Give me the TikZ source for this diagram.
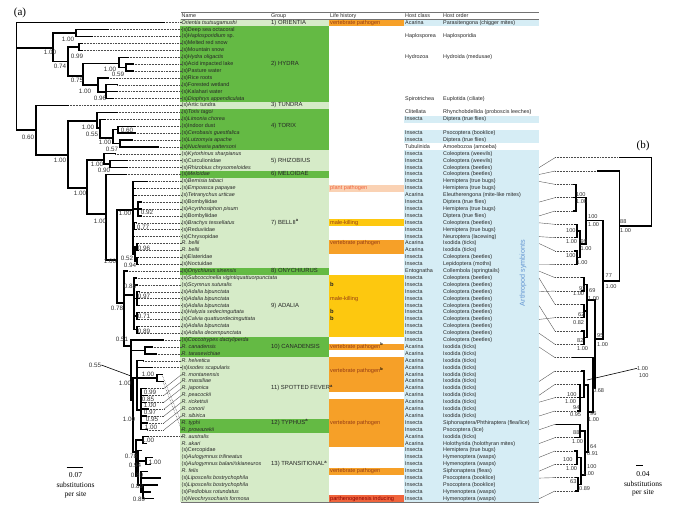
\documentclass[tikz,border=0pt]{standalone}
\usepackage{fontspec}
\setmainfont{Liberation Sans}
\newfontfamily\seriffont{Liberation Serif}
\usetikzlibrary{positioning}
\usetikzlibrary{calc}

\definecolor{dkgreen}{RGB}{100,186,68}
\definecolor{ltgreen}{RGB}{214,235,200}
\definecolor{vorange}{RGB}{246,160,40}
\definecolor{mkyellow}{RGB}{253,200,15}
\definecolor{peach}{RGB}{250,210,180}
\definecolor{redor}{RGB}{240,100,60}
\definecolor{ltblue}{RGB}{214,237,245}
\definecolor{lhtext}{RGB}{150,60,20}
\definecolor{symblue}{RGB}{100,150,210}

\tikzset{
  namecell/.style={anchor=west, inner sep=0pt, text height=3.9pt, text depth=1.1pt,
    font=\fontsize{5.4}{6}\selectfont, text=black!85},
  hostcell/.style={namecell},
  groupcell/.style={namecell, font=\fontsize{5.9}{6}\selectfont},
  lifecell/.style={namecell, font=\fontsize{5.6}{6}\selectfont, text=lhtext},
  branch/.style={line width=1.3pt, line cap=rect},
  bbranch/.style={line width=1.2pt, line cap=rect},
  leader/.style={densely dotted, line width=0.55pt, black!70},
  conn/.style={line width=0.4pt, black!65},
  rule/.style={line width=0.9pt, black!55},
  blab/.style={inner sep=0pt, font=\fontsize{6.3}{6.3}\selectfont, text=black!80},
  bblab/.style={blab, anchor=west, font=\fontsize{5.6}{5.6}\selectfont},
  scaletext/.style={inner sep=0pt, font=\seriffont\fontsize{7.5}{8}\selectfont}
}

% one table row: names, host class, host order
\newcommand{\trow}[4]{%
  \node[namecell] (n#1) at (181.5,{15.8+6.9*#1}) {#2};
  \node[hostcell] (c#1) at (405,{15.8+6.9*#1}) {#3};
  \node[hostcell] (o#1) at (443,{15.8+6.9*#1}) {#4};
  \coordinate (e#1) at (539,{15.8+6.9*#1});
}
% coloured band over rows #2..#3
\newcommand{\band}[5]{\fill[fill=#1] (#4,{12.35+6.9*#2}) rectangle (#5,{19.25+6.9*#3});}
% tree (a) tip: id, x end, row
\newcommand{\tipa}[3]{\coordinate (t#1) at (#2,{15.8+6.9*#3});}
% tree (b) tip: index, x start of branch
\newcommand{\tipb}[2]{%
  \coordinate (b#1) at (#2,{157.7+13.33*#1});
  \coordinate (bd#1) at (555,{157.7+13.33*#1});
}

\begin{document}
\begin{tikzpicture}[x=1pt, y=-1pt]
\useasboundingbox (0,0) rectangle (685,528);

% bands: groups, life history, host
\foreach \c/\a/\b in {ltgreen/1/1, dkgreen/2/12, ltgreen/13/13, dkgreen/14/19, ltgreen/20/22,
    dkgreen/23/23, ltgreen/24/36, dkgreen/37/37, ltgreen/38/46, dkgreen/47/49,
    ltgreen/50/58, dkgreen/59/60, ltgreen/61/70}
  \band{\c}{\a}{\b}{180}{329};
\foreach \c/\a/\b in {vorange/1/1, peach/25/25, mkyellow/30/30, vorange/33/34, mkyellow/38/46,
    vorange/48/48, vorange/50/54, vorange/56/62, vorange/66/66, redor/70/70}
  \band{\c}{\a}{\b}{329}{403.5};
\foreach \a/\b in {1/1, 15/15, 17/18, 20/70}
  \band{ltblue}{\a}{\b}{403.5}{539};

\draw[rule] (181,12.3) -- (539,12.3);
\draw[line width=0.4pt, black!55] (181,19.3) -- (539,19.3);
\draw[rule] (181,502.6) -- (539,502.6);

\node[namecell] (h1) at (181.5,16) {Name};
\node[namecell] (h2) at (271,16) {Group};
\node[namecell] (h3) at (330,16) {Life history};
\node[namecell] (h4) at (405,16) {Host class};
\node[namecell] (h5) at (443,16) {Host order};

\trow{1}{\textit{Orientia tsutsugamushi}}{Acarina}{Parasitengona (chigger mites)}
\trow{2}{(s)Deep sea octacoral}{}{}
\trow{3}{(s)\textit{Haplosporidium} sp.}{Haplosporea}{Haplosporidia}
\trow{4}{(s)Melted red snow}{}{}
\trow{5}{(s)Mountain snow}{}{}
\trow{6}{(s)\textit{Hydra oligactis}}{Hydrozoa}{Hydroida (medusae)}
\trow{7}{(s)Acid impacted lake}{}{}
\trow{8}{(s)Pasture water}{}{}
\trow{9}{(s)Rice roots}{}{}
\trow{10}{(s)Forested wetland}{}{}
\trow{11}{(s)Kalahari water}{}{}
\trow{12}{(s)\textit{Diophrys appendiculata}}{Spirotrichea}{Euplotida (ciliate)}
\trow{13}{(s)Artic tundra}{}{}
\trow{14}{(s)\textit{Torix tagoi}}{Clitellata}{Rhynchobdellida (proboscis leeches)}
\trow{15}{(s)\textit{Limonia chorea}}{Insecta}{Diptera (true flies)}
\trow{16}{(s)Indoor dust}{}{}
\trow{17}{(s)\textit{Cerobasis guestfalica}}{Insecta}{Psocoptera (booklice)}
\trow{18}{(s)\textit{Lutzomyia apache}}{Insecta}{Diptera (true flies)}
\trow{19}{(s)\textit{Nuclearia pattersoni}}{Tubulinida}{Amoebozoa (amoeba)}
\trow{20}{(s)\textit{Kytorhinus sharpianus}}{Insecta}{Coleoptera (weevils)}
\trow{21}{(s)Curculionidae}{Insecta}{Coleoptera (weevils)}
\trow{22}{(s)\textit{Rhizobius chrysomeloides}}{Insecta}{Coleoptera (beetles)}
\trow{23}{(s)\textit{Meloidae}}{Insecta}{Coleoptera (beetles)}
\trow{24}{(s)\textit{Bemisia tabaci}}{Insecta}{Hemiptera (true bugs)}
\trow{25}{(s)\textit{Empoasca papayae}}{Insecta}{Hemiptera (true bugs)}
\trow{26}{(s)\textit{Tetranychus urticae}}{Acarina}{Eleutherengona (mite-like mites)}
\trow{27}{(s)Bombyliidae}{Insecta}{Diptera (true flies)}
\trow{28}{(s)\textit{Acyrthosiphon pisum}}{Insecta}{Hemiptera (true bugs)}
\trow{29}{(s)Bombyliidae}{Insecta}{Diptera (true flies)}
\trow{30}{(s)\textit{Brachys tessellatus}}{Insecta}{Coleoptera (beetles)}
\trow{31}{(s)Reduviidae}{Insecta}{Hemiptera (true bugs)}
\trow{32}{(s)Chrysopidae}{Insecta}{Neuroptera (lacewing)}
\trow{33}{\textit{R. bellii}}{Acarina}{Ixodida (ticks)}
\trow{34}{\textit{R. bellii}}{Acarina}{Ixodida (ticks)}
\trow{35}{(s)Elateridae}{Insecta}{Coleoptera (beetles)}
\trow{36}{(s)Noctuidae}{Insecta}{Lepidoptera (moths)}
\trow{37}{(s)\textit{Onychiurus sinensis}}{Entognatha}{Collembola (springtails)}
\trow{38}{(s)\textit{Subcoccinella vigintiquattuorpunctata}}{Insecta}{Coleoptera (beetles)}
\trow{39}{(s)\textit{Scymnus suturalis}}{Insecta}{Coleoptera (beetles)}
\trow{40}{(s)\textit{Adalia bipunctata}}{Insecta}{Coleoptera (beetles)}
\trow{41}{(s)\textit{Adalia bipunctata}}{Insecta}{Coleoptera (beetles)}
\trow{42}{(s)\textit{Adalia bipunctata}}{Insecta}{Coleoptera (beetles)}
\trow{43}{(s)\textit{Halyzia sedecimguttata}}{Insecta}{Coleoptera (beetles)}
\trow{44}{(s)\textit{Calvia quattuordecimguttata}}{Insecta}{Coleoptera (beetles)}
\trow{45}{(s)\textit{Adalia bipunctata}}{Insecta}{Coleoptera (beetles)}
\trow{46}{(s)\textit{Adalia decempunctata}}{Insecta}{Coleoptera (beetles)}
\trow{47}{(s)\textit{Coccotrypes dactyliperda}}{Insecta}{Coleoptera (beetles)}
\trow{48}{\textit{R. canadensis}}{Acarina}{Ixodida (ticks)}
\trow{49}{\textit{R. tarasevichiae}}{Acarina}{Ixodida (ticks)}
\trow{50}{\textit{R. helvetica}}{Acarina}{Ixodida (ticks)}
\trow{51}{(s)\textit{Ixodes scapularis}}{Acarina}{Ixodida (ticks)}
\trow{52}{\textit{R. montanensis}}{Acarina}{Ixodida (ticks)}
\trow{53}{\textit{R. massiliae}}{Acarina}{Ixodida (ticks)}
\trow{54}{\textit{R. japonica}}{Acarina}{Ixodida (ticks)}
\trow{55}{\textit{R. peacockii}}{Acarina}{Ixodida (ticks)}
\trow{56}{\textit{R. rickettsii}}{Acarina}{Ixodida (ticks)}
\trow{57}{\textit{R. conorii}}{Acarina}{Ixodida (ticks)}
\trow{58}{\textit{R. sibirica}}{Acarina}{Ixodida (ticks)}
\trow{59}{\textit{R. typhi}}{Insecta}{Siphonaptera/Phthiraptera (flea/lice)}
\trow{60}{\textit{R. prowazekii}}{Insecta}{Psocoptera (lice)}
\trow{61}{\textit{R. australis}}{Acarina}{Ixodida (ticks)}
\trow{62}{\textit{R. akari}}{Acarina}{Holothyrida (holothyran mites)}
\trow{63}{(s)Cercopidae}{Insecta}{Hemiptera (true bugs)}
\trow{64}{(s)\textit{Aulogymnus trilineatus}}{Insecta}{Hymenoptera (wasps)}
\trow{65}{(s)\textit{Aulogymnus balani/skianeuros}}{Insecta}{Hymenoptera (wasps)}
\trow{66}{\textit{R. felis}}{Insecta}{Siphonaptera (fleas)}
\trow{67}{(s)\textit{Liposcelis bostrychophila}}{Insecta}{Psocoptera (booklice)}
\trow{68}{(s)\textit{Liposcelis bostrychophila}}{Insecta}{Psocoptera (booklice)}
\trow{69}{(s)\textit{Pediobius rotundatus}}{Insecta}{Hymenoptera (wasps)}
\trow{70}{(s)\textit{Neochrysocharis formosa}}{Insecta}{Hymenoptera (wasps)}

% groups
\foreach \r/\t [count=\k] in {1/1) ORIENTIA, 7/2) HYDRA, 13/3) TUNDRA, 16/4) TORIX, 21/5) RHIZOBIUS,
    23/6) MELOIDAE, 30/7) BELLII\textsuperscript{\textbf{a}}, 37/8) ONYCHIURUS, 42/9) ADALIA,
    48/10) CANADENSIS, 54/11) SPOTTED FEVER\textsuperscript{\textbf{a}},
    59/12) TYPHUS\textsuperscript{\textbf{a}}, 65/13) TRANSITIONAL\textsuperscript{\textbf{a}}}
  \node[groupcell] (g\k) at (271,{15.8+6.9*\r}) {\t};

% life history
\node[lifecell] (lh1) at (330,{15.8+6.9*1}) {vertebrate pathogen};
\node[lifecell, text=redor] (lh2) at (330,{15.8+6.9*25}) {plant pathogen};
\node[lifecell] (lh3) at (330,{15.8+6.9*30}) {male-killing};
\node[lifecell] (lh4) at (330,{15.8+6.9*33}) {vertebrate pathogen};
\node[lifecell] (lh5) at (330,{15.8+6.9*41}) {male-killing};
\node[lifecell] (lh6) at (330,{15.8+6.9*48}) {vertebrate pathogen\textsuperscript{\textcolor{black}{\textbf{b}}}};
\node[lifecell] (lh7) at (330,371.2) {vertebrate pathogen\textsuperscript{\textcolor{black}{\textbf{b}}}};
\node[lifecell] (lh8) at (330,{15.8+6.9*59}) {vertebrate pathogen};
\node[lifecell] (lh9) at (330,{15.8+6.9*66}) {vertebrate pathogen};
\node[lifecell, text=red!55!black] (lh10) at (330,{15.8+6.9*70}) {parthenogenesis inducing};
\foreach \r in {39,43,44}
  \node[namecell, font=\bfseries\fontsize{5.8}{6}\selectfont] (mk\r) at (330,{15.8+6.9*\r}) {b};

\node[rotate=90, text=symblue, inner sep=0pt, font=\fontsize{7.2}{7.2}\selectfont] (arthro) at (523,273) {Arthropod symbionts};

% ---- tree (a) ----
\coordinate (root) at (16.5,60);
\coordinate (A) at (53,48);   \coordinate (B) at (76,33);    \coordinate (C) at (68,61.7);
\coordinate (D) at (79,47);   \coordinate (E) at (83,76);    \coordinate (F) at (119,63.5);
\coordinate (H) at (126,67.5);\coordinate (G) at (98,85);    \coordinate (I) at (106,92);
\coordinate (J) at (36,130);  \coordinate (L) at (68,155);   \coordinate (M) at (97,121);
\coordinate (N) at (100,128); \coordinate (O) at (113,138);  \coordinate (P) at (118,129.6);
\coordinate (Q) at (120,143.5);
\coordinate (R) at (87,188);  \coordinate (S) at (104,160);  \coordinate (T) at (110,164);
\coordinate (U) at (106,214); \coordinate (V) at (117,260);  \coordinate (W) at (133,210);
\coordinate (W2) at (138,209);\coordinate (W3) at (134,226); \coordinate (W4) at (135,254);
\coordinate (W5) at (137,247);\coordinate (W6) at (137,261);
\coordinate (X) at (124,303); \coordinate (Y) at (134,295);  \coordinate (Y1) at (137,298.7);
\coordinate (Y2) at (137,316);\coordinate (Y3) at (137,329.7);
\coordinate (Z) at (131,346); \coordinate (K) at (145,350.5);\coordinate (Z1) at (133,400);
\coordinate (SF) at (137,378);\coordinate (TY) at (157,378); \coordinate (SF2) at (141,410);
\coordinate (Z2) at (136,452);\coordinate (AU) at (143,440); \coordinate (TR) at (138,476);
\coordinate (AUL) at (146,461);\coordinate (TR2) at (141,485);\coordinate (TR3) at (143,492);

\tipa{1}{164}{1}   \tipa{2}{108}{2}   \tipa{3}{92}{3}    \tipa{4}{82}{4}    \tipa{5}{82}{5}
\tipa{6}{128}{6}   \tipa{7}{133}{7}   \tipa{8}{133}{8}   \tipa{9}{108}{9}   \tipa{10}{117}{10}
\tipa{11}{117}{11} \tipa{12}{113}{12} \tipa{13}{68}{13}  \tipa{14}{117}{14} \tipa{15}{105}{15}
\tipa{16}{135}{16} \tipa{17}{135}{17} \tipa{18}{132}{18} \tipa{19}{158}{19} \tipa{20}{115}{20}
\tipa{21}{127}{21} \tipa{22}{127}{22} \tipa{23}{126}{23} \tipa{24}{147}{24} \tipa{25}{135}{25}
\tipa{26}{136}{26} \tipa{27}{141}{27} \tipa{28}{141}{28} \tipa{29}{141}{29} \tipa{30}{136}{30}
\tipa{31}{136}{31} \tipa{32}{134}{32} \tipa{33}{138}{33} \tipa{34}{138}{34} \tipa{35}{138}{35}
\tipa{36}{138}{36} \tipa{37}{127}{37} \tipa{38}{136}{38} \tipa{39}{137}{39} \tipa{40}{139}{40}
\tipa{41}{139}{41} \tipa{42}{139}{42} \tipa{43}{139}{43} \tipa{44}{139}{44} \tipa{45}{139}{45}
\tipa{46}{139}{46} \tipa{47}{163}{47} \tipa{48}{152}{48} \tipa{49}{156}{49} \tipa{50}{143}{50}
\tipa{51}{152}{51} \tipa{59}{162}{52} \tipa{60}{163}{53} \tipa{52}{146}{54} \tipa{53}{147}{55}
\tipa{54}{146}{56} \tipa{55}{148}{57} \tipa{56}{146}{58} \tipa{57}{147}{59} \tipa{58}{147}{60}
\tipa{61}{148}{61} \tipa{62}{146}{62} \tipa{63}{141}{63} \tipa{64}{152}{64} \tipa{65}{150}{65}
\tipa{66}{147}{66} \tipa{67}{160}{67} \tipa{68}{157}{68} \tipa{69}{150}{69} \tipa{70}{153}{70}

% leaders to the names
\foreach \i in {1,...,51,61,...,70}
  \draw[leader] (t\i) -- (n\i.west);
\coordinate (kink) at (164,0);
\foreach \i in {52,...,58} {
  \draw[leader] (t\i) -- (t\i -| kink);
  \draw[conn] (t\i -| kink) -- (n\i.west);
}
\draw[leader] (t59) -- (n59.west);
\draw[leader] (t60) -- (n60.west);

\foreach \p/\c in {root/t1, root/A, root/J, A/B, A/C, B/t2, B/t3, C/D, C/E, D/t4, D/t5,
    E/F, E/G, F/t6, F/H, H/t7, H/t8, G/t9, G/I, I/t10, I/t11, I/t12,
    J/t13, J/L, L/M, L/R, M/t14, M/N, N/t15, N/O, O/P, O/Q, P/t16, P/t17, Q/t18, Q/t19,
    R/S, R/U, S/t20, S/T, T/t21, T/t22, U/t23, U/V, V/W, V/X,
    W/t24, W/t25, W/t26, W/W2, W/W3, W/t32, W/W4, W2/t27, W2/t28, W2/t29, W3/t30, W3/t31,
    W4/W5, W4/W6, W5/t33, W5/t34, W6/t35, W6/t36,
    X/t37, X/Y, X/Z, Y/t38, Y/t39, Y/Y1, Y/Y2, Y/Y3, Y1/t40, Y1/t41, Y1/t42,
    Y2/t43, Y2/t44, Y3/t45, Y3/t46,
    Z/t47, Z/K, Z/Z1, K/t48, K/t49, Z1/SF, Z1/Z2, SF/t50, SF/t51, SF/TY, SF/SF2,
    TY/t59, TY/t60, SF2/t52, SF2/t53, SF2/t54, SF2/t55, SF2/t56, SF2/t57, SF2/t58,
    Z2/AU, Z2/TR, AU/t61, AU/t62, TR/t63, TR/AUL, TR/TR2, AUL/t64, AUL/t65,
    TR2/t66, TR2/t67, TR2/TR3, TR3/t68, TR3/t69, TR3/t70}
  \draw[branch] (\p) |- (\c);

\foreach \x/\y/\t [count=\k] in {68/39/1.00, 50/52/1.00, 77/56/0.99, 60/66/0.74, 110/69/1.00,
    118/74/0.59, 77/80/0.75, 85/91/1.00, 100/98/0.96, 28/137/0.60, 88/127/1.00, 92/134/0.55,
    127/130/0.60, 105/142/1.00, 112/149/0.57, 60/160/1.00, 97/164/1.00, 104/170/0.90,
    80/193/1.00, 100/221/1.00, 125/213/1.00, 147/212/0.92, 143/227/0.77, 144/248/0.96,
    127/258/0.52, 130/265/0.94, 110/261/1.00, 130/286/0.88, 144/296/0.97, 144/316/0.71,
    144/331/0.89, 117/308/0.78, 122/339/0.51, 95/365/0.55, 148/374/1.00, 125/383/1.00,
    150/392/0.99, 148/399/0.85, 150/405/1.00, 150/412/0.97, 152/419/0.95, 151/427/1.00,
    129/419/1.00, 148/440/1.00, 131/456/0.78, 135/465/0.94, 155/462/1.00, 137/475/0.89,
    137/486/0.89, 139/499/0.89}
  \node[blab] (la\k) at (\x,\y) {\t};
\coordinate (pa) at (131,376);
\draw[line width=0.6pt] (la34.east) -- (pa);

\coordinate (sa1) at (66.7,467.3);
\coordinate (sa2) at (83.3,467.3);
\draw[line width=1pt] (sa1) -- (sa2);
\node[scaletext] (sat1) at (75.5,475.5) {0.07};
\node[scaletext] (sat2) at (75.5,485) {substitutions};
\node[scaletext] (sat3) at (75.5,494.5) {per site};
\node[inner sep=0pt, font=\seriffont\fontsize{11}{11}\selectfont] (pa-lab) at (20,13) {(a)};

% ---- tree (b) ----
\tipb{0}{620} \tipb{1}{598} \tipb{2}{574} \tipb{3}{574} \tipb{4}{574}
\tipb{5}{575} \tipb{6}{575} \tipb{7}{575} \tipb{8}{575} \tipb{9}{582}
\tipb{10}{582} \tipb{11}{582} \tipb{12}{582} \tipb{13}{582} \tipb{14}{582}
\tipb{15}{573} \tipb{16}{582} \tipb{17}{578} \tipb{18}{578} \tipb{19}{578}
\tipb{20}{557} \tipb{21}{575} \tipb{22}{575} \tipb{23}{575} \tipb{24}{576} \tipb{25}{576}

\coordinate (q0) at (651.7,192);  \coordinate (q1) at (619.5,226); \coordinate (q2) at (603,281);
\coordinate (q3) at (586,220.7);  \coordinate (q5) at (576,197.7); \coordinate (q6) at (580,244);
\coordinate (q7) at (577,231);    \coordinate (q8) at (577,257.7); \coordinate (q4) at (595,339);
\coordinate (q9) at (587,300);    \coordinate (q11) at (584,284.3);\coordinate (q12) at (584,311);
\coordinate (q13) at (584,337.7); \coordinate (q10) at (593,388);  \coordinate (q15) at (588,412);
\coordinate (q16) at (584,385);   \coordinate (q18) at (580,397.7);\coordinate (q17) at (585,452);
\coordinate (q19) at (580,431);   \coordinate (q20) at (581,475);  \coordinate (q21) at (577,457.7);
\coordinate (q22) at (578,484.3);

\foreach \k in {0,...,25}
  \draw[leader] (bd\k) -- (b\k);
\foreach \r/\k in {22/0, 23/1, 24/2, 27/3, 29/4, 30/5, 32/6, 33/7, 36/8, 37/9, 40/10, 38/11,
    44/12, 42/13, 46/14, 48/15, 53/16, 55/17, 56/18, 58/19, 60/20, 62/21, 64/22, 66/23,
    67/24, 70/25}
  \draw[conn] (e\r) -- (bd\k);

\foreach \p/\c in {q0/b0, q0/q1, q1/b1, q1/q2, q2/q3, q2/q4, q3/q5, q3/q6, q5/b2, q5/b3, q5/b4,
    q6/q7, q6/q8, q7/b5, q7/b6, q8/b7, q8/b8, q4/q9, q4/q10, q9/q11, q9/q12, q9/q13,
    q11/b9, q11/b10, q12/b11, q12/b12, q13/b13, q13/b14, q10/b15, q10/q15, q15/q16, q15/q17,
    q16/b16, q16/q18, q18/b17, q18/b18, q18/b19, q17/q19, q17/q20, q19/b20, q19/b21,
    q20/q21, q20/q22, q21/b22, q21/b23, q22/b24, q22/b25}
  \draw[bbranch] (\p) |- (\c);

\foreach \x/\y/\t [count=\k] in {620/222/88, 620/231/1.00, 605.5/276/77, 605.5/286.5/1.00,
    588/216.5/100, 588/225/1.00, 576/195/100, 576/202/1.00, 566/231/100, 566/241.5/1.00,
    580.5/241.5/99, 580.5/248.3/1.00, 566/255.7/100, 576.5/262.3/1.00, 579/289/92,
    573/293.5/1.00, 589/290.5/69, 588/299/1.00, 578/315/62, 573/322.3/0.82, 577/340.7/82,
    577/348.3/1.00, 597/336/95, 597/344.3/1.00, 593/390.7/0.68, 637/368.3/1.00,
    639/375.5/100, 567/394.3/100, 565/401.7/1.00, 573/407.3/94, 570/415/0.95, 590/413.3/96,
    588/420/1.00, 573/432.7/88, 572/441.7/1.00, 590/446.7/64, 587/454/0.91, 563/459.3/100,
    566/468.3/1.00, 587/466.7/100, 583/474/1.00, 570/481.7/63, 579/488.3/0.89}
  \node[bblab] (lb\k) at (\x,\y) {\t};
\coordinate (pb) at (587,380);
\draw[line width=0.6pt] (lb26.west) -- (pb);

\coordinate (sb1) at (636,465);
\coordinate (sb2) at (642.5,465);
\draw[line width=1pt] (sb1) -- (sb2);
\node[scaletext] (sbt1) at (643,474) {0.04};
\node[scaletext] (sbt2) at (643,483.5) {substitutions};
\node[scaletext] (sbt3) at (643,493) {per site};
\node[inner sep=0pt, font=\seriffont\fontsize{11}{11}\selectfont] (pb-lab) at (643,146) {(b)};
\end{tikzpicture}
\end{document}
